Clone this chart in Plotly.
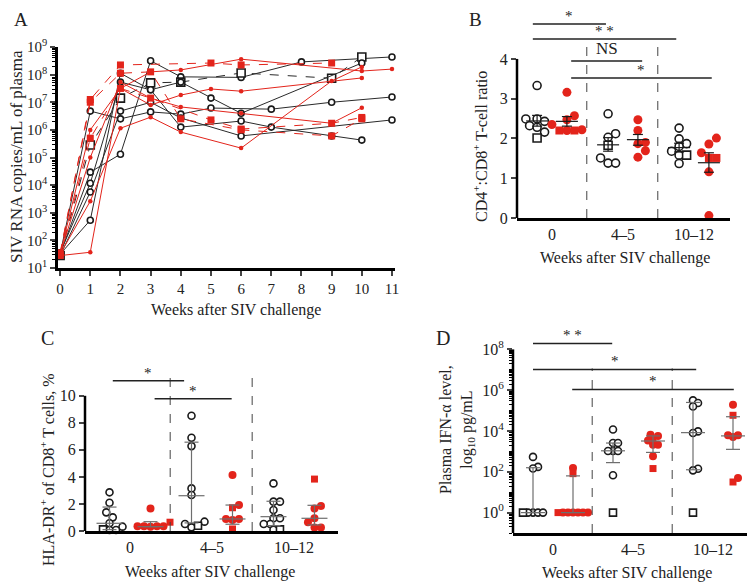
import numpy as np
import plotly.graph_objects as go

RED = "#e3241b"
INK = "#1a1a1a"
GREY = "#6e6e6e"
FONT = "Liberation Serif"
# the page body adds an 8px margin; the figure is sized so that it fills the window exactly
PAGE_W, PAGE_H, BODY = 755, 582, 8
W, H = PAGE_W - BODY, PAGE_H - BODY

# ---------------- Panel A: plasma SIV RNA, log10 copies/mL ----------------
A_weeks_black1 = [0, 1, 2, 3, 4, 6, 8, 11]
A_log_black1 = [1.5, 4.47, 5.12, 8.5, 7.92, 7.9, 8.46, 8.64]
A_weeks_black2 = [0, 1, 2, 3, 4, 6, 9, 10]          # square animal
A_log_black2 = [1.45, 5.45, 7.15, 7.7, 7.73, 8.06, 7.87, 8.64]
A_weeks_black3 = [0, 1, 2, 3, 4, 5, 7, 9, 11]
A_log_black3 = [1.5, 6.68, 6.4, 6.65, 6.57, 6.79, 6.75, 7.0, 7.19]
A_weeks_black4 = [0, 1, 2, 3, 4, 6, 7, 9, 10]
A_log_black4 = [1.55, 4.07, 7.73, 7.45, 6.1, 6.32, 6.1, 5.78, 5.63]
A_weeks_black5 = [0, 1, 2, 3, 4, 5, 6, 10]
A_log_black5 = [1.5, 2.73, 8.05, 7.45, 7.73, 7.15, 6.6, 8.42]
A_weeks_black6 = [0, 1, 2, 3, 4, 6, 11]
A_log_black6 = [1.45, 3.75, 6.68, 7.0, 6.43, 5.78, 6.36]
A_weeks_red1 = [0, 1, 2, 5, 6, 9]                   # square animal
A_log_red1 = [1.5, 7.1, 8.35, 8.42, 8.35, 8.42]
A_weeks_red2 = [0, 1, 2, 3, 4, 6, 10, 11]
A_log_red2 = [1.5, 6.0, 7.5, 8.1, 8.17, 8.56, 8.13, 8.2]
A_weeks_red3 = [0, 1, 2, 3, 5, 6, 9, 10]            # square animal
A_log_red3 = [1.45, 5.7, 7.5, 7.15, 6.36, 6.03, 6.24, 6.45]
A_weeks_red4 = [0, 1, 2, 3, 4, 6, 9, 10]
A_log_red4 = [1.5, 3.42, 6.06, 6.46, 5.92, 5.34, 7.77, 8.28]
A_weeks_red5 = [0, 1, 2, 3, 4, 5, 6, 10]
A_log_red5 = [1.45, 1.57, 7.5, 6.9, 7.26, 7.48, 7.4, 7.88]
A_weeks_red6 = [0, 1, 2, 3, 4, 6, 9, 10]
A_log_red6 = [1.5, 5.0, 7.73, 7.15, 6.83, 6.6, 6.24, 6.8]
A_weeks_red7 = [0, 1, 2, 3, 4, 6, 9, 10]            # square animal
A_log_red7 = [1.55, 7.0, 8.05, 8.1, 6.4, 6.0, 5.78, 6.4]
A_week_ticks = list(range(0, 12))
A_log_ticks = list(range(1, 10))

# ---------------- shared categories ----------------
categories = ["0", "4–5", "10–12"]

# ---------------- Panel B: CD4:CD8 ratio (mean ± SEM) ----------------
B_black_circles = [[3.33, 2.49, 2.49, 2.43, 2.32, 2.28, 2.16],
                   [2.62, 2.12, 2.03, 1.51, 1.38, 1.38],
                   [2.26, 1.99, 1.87, 1.80, 1.68, 1.58, 1.37]]
B_black_squares = [[2.01], [1.83], [1.58]]
B_red_circles = [[3.16, 2.57, 2.47, 2.35, 2.22, 2.20],
                 [2.47, 2.20, 1.90, 1.87, 1.69, 1.53],
                 [2.01, 1.86, 1.64, 1.16, 0.06]]
B_red_squares = [[2.20, 2.20], [], [1.51, 1.51]]
B_black_mean = [2.44, 1.84, 1.77]
B_black_sem_lo = [2.31, 1.68, 1.66]
B_black_sem_hi = [2.58, 2.02, 1.88]
B_red_mean = [2.43, 1.97, 1.39]
B_red_sem_lo = [2.31, 1.83, 1.15]
B_red_sem_hi = [2.55, 2.10, 1.64]

# ---------------- Panel C: HLA-DR+ of CD8+ T cells, % (median, IQR) ----------------
C_black_circles = [[2.86, 2.09, 1.38, 1.01, 0.57, 0.32, 0.07, 0.07],
                   [8.52, 6.90, 6.28, 3.15, 2.66, 0.69, 0.52, 0.27],
                   [3.52, 2.17, 2.17, 1.55, 0.94, 0.94, 0.52, 0.52, 0.10]]
C_black_squares = [[0.12], [0.39], [0.12]]
C_red_circles = [[1.67, 0.35, 0.35, 0.35, 0.32, 0.35],
                 [4.14, 1.92, 0.89, 0.89, 0.81],
                 [1.85, 1.67, 0.94, 0.64, 0.25, 0.25]]
C_red_squares = [[0.65], [1.72, 0.15], [3.84]]
C_black_median = [0.57, 2.61, 1.06]
C_black_q1 = [0.10, 0.60, 0.40]
C_black_q3 = [1.77, 6.57, 2.20]
C_red_median = [0.32, 0.89, 0.94]
C_red_q1 = [0.32, 0.50, 0.45]
C_red_q3 = [0.69, 1.92, 1.90]

# ---------------- Panel D: plasma IFN-alpha, log10 pg/mL (median, IQR) ----------------
D_black_circles = [[2.73, 2.24, 2.16, 0, 0, 0, 0],
                   [4.07, 3.41, 3.41, 3.02, 3.02, 3.02, 1.83],
                   [5.50, 5.37, 5.20, 3.98, 3.90, 2.15, 2.07]]
D_black_squares = [[0], [0], [0]]
D_red_circles = [[2.19, 0, 0, 0, 0, 0, 0],
                 [3.82, 3.76, 3.54, 3.33, 3.33, 2.76],
                 [5.29, 3.79, 3.79, 3.70, 1.70]]
D_red_squares = [[1.91, 0], [3.58, 2.16], [4.77, 1.50]]
D_black_median = [0.0, 3.03, 3.92]
D_black_q1 = [0.0, 2.45, 2.10]
D_black_q3 = [2.20, 3.41, 5.40]
D_red_median = [0.0, 3.51, 3.76]
D_red_q1 = [0.0, 2.95, 3.10]
D_red_q3 = [1.80, 3.76, 4.70]

# significance bars: (x from, x to, y level, label) in axis units (log10 for panel D)
B_sig = [(-0.27, 0.76, 4.88, "*"), (-0.27, 1.75, 4.50, "* *"),
         (0.27, 1.27, 3.95, "NS"), (0.27, 2.25, 3.52, "*")]
C_sig = [(-0.21, 0.66, 11.11, "*"), (0.30, 1.24, 9.78, "*")]
D_sig = [(-0.25, 0.74, 8.29, "* *"), (-0.25, 1.79, 7.02, "*"), (0.24, 2.26, 6.04, "*")]

# ============================================================================
fig = go.Figure()


def dom_x(l, r):
    return [max(0.0, (l - BODY) / W), min(1.0, (r - BODY) / W)]


def dom_y(b, t):
    return [max(0.0, 1 - (b - BODY) / H), min(1.0, 1 - (t - BODY) / H)]


# ---------------- Panel A ----------------
A_series = [
    (A_weeks_black1, A_log_black1, "black", False),
    (A_weeks_black2, A_log_black2, "black", True),
    (A_weeks_black3, A_log_black3, "black", False),
    (A_weeks_black4, A_log_black4, "black", False),
    (A_weeks_black5, A_log_black5, "black", False),
    (A_weeks_black6, A_log_black6, "black", False),
    (A_weeks_red1, A_log_red1, "red", True),
    (A_weeks_red2, A_log_red2, "red", False),
    (A_weeks_red3, A_log_red3, "red", True),
    (A_weeks_red4, A_log_red4, "red", False),
    (A_weeks_red5, A_log_red5, "red", False),
    (A_weeks_red6, A_log_red6, "red", False),
    (A_weeks_red7, A_log_red7, "red", True),
]
for wk, lg, grp, sq in A_series:
    yv = [10 ** v for v in lg]
    if grp == "black":
        line = dict(color="#2a2a2a", width=1, dash="dash" if sq else "solid")
        marker = dict(symbol="square" if sq else "circle", size=8 if sq else 6,
                      color="white", line=dict(color=INK, width=1.6))
    else:
        line = dict(color=RED, width=1, dash="dash" if sq else "solid")
        marker = dict(symbol="square" if sq else "circle", size=7 if sq else 4.5,
                      color=RED, line=dict(width=0))
    fig.add_trace(go.Scatter(x=wk, y=yv, mode="lines+markers", line=line, marker=marker,
                             xaxis="x", yaxis="y", showlegend=False, hoverinfo="skip",
                             cliponaxis=False))


# ---------------- dot panels ----------------
def swarm(vals, ypu, xpu, spacing):
    ypx = [v * ypu for v in vals]
    order = sorted(range(len(vals)), key=lambda i: (ypx[i], i))
    placed = []
    offs = [0.0] * len(vals)
    step = spacing / 2.0
    for i in order:
        k = 0
        found = None
        while found is None:
            cands = [0.0] if k == 0 else [k * step, -k * step]
            for c in cands:
                if all((c - px) ** 2 + (ypx[i] - py) ** 2 >= spacing ** 2 * 0.999 for px, py in placed):
                    found = c
                    break
            k += 1
        placed.append((found, ypx[i]))
        offs[i] = found / xpu
    return offs


PANELS = {
    "B": dict(xa="x2", ya="y2", px=(517, 730), py=(218, 10), xr=(-0.493, 2.507), yr=(0, 5.23),
              log=False, off=0.21, size=(8, 9), spacing=7.5, hw=11, cw=5, sumcolor=INK,
              circles=(B_black_circles, B_red_circles), squares=(B_black_squares, B_red_squares),
              center=(B_black_mean, B_red_mean), lo=(B_black_sem_lo, B_red_sem_lo),
              hi=(B_black_sem_hi, B_red_sem_hi), sig=B_sig, top=4, dash_top=4.37,
              yticks=[0, 1, 2, 3, 4]),
    "C": dict(xa="x3", ya="y3", px=(85, 338), py=(531, 362), xr=(-0.549, 2.537), yr=(0, 12.5),
              log=False, off=0.25, size=(7, 8), spacing=6.5, hw=13, cw=7, sumcolor=GREY,
              circles=(C_black_circles, C_red_circles), squares=(C_black_squares, C_red_squares),
              center=(C_black_median, C_red_median), lo=(C_black_q1, C_red_q1),
              hi=(C_black_q3, C_red_q3), sig=C_sig, top=10, dash_top=11.8,
              yticks=[0, 2, 4, 6, 8, 10]),
    "D": dict(xa="x4", ya="y4", px=(513, 755), py=(533, 329), xr=(-0.5, 2.525), yr=(-1, 9),
              log=True, off=0.25, size=(7, 8), spacing=5.0, hw=12, cw=7, sumcolor=GREY,
              circles=(D_black_circles, D_red_circles), squares=(D_black_squares, D_red_squares),
              center=(D_black_median, D_red_median), lo=(D_black_q1, D_red_q1),
              hi=(D_black_q3, D_red_q3), sig=D_sig, top=8, dash_top=7.07,
              yticks=[0, 2, 4, 6, 8]),
}

shapes = []
annotations = []

for name, P in PANELS.items():
    xpu = (P["px"][1] - P["px"][0]) / (P["xr"][1] - P["xr"][0])
    ypu = (P["py"][0] - P["py"][1]) / (P["yr"][1] - P["yr"][0])
    tr = (lambda v: 10 ** v) if P["log"] else (lambda v: v)
    for gi, sign in enumerate((-1, 1)):
        is_red = gi == 1
        # summary lines (center, error range)
        sx, sy = [], []
        for k in range(len(categories)):
            c = k + sign * P["off"]
            hw, cw = P["hw"] / xpu, P["cw"] / xpu
            m, lo, hi = P["center"][gi][k], P["lo"][gi][k], P["hi"][gi][k]
            sx += [c - hw, c + hw, None, c, c, None, c - cw, c + cw, None, c - cw, c + cw, None]
            sy += [tr(m), tr(m), None, tr(lo), tr(hi), None, tr(lo), tr(lo), None, tr(hi), tr(hi), None]
        # points
        cx, cy, qx, qy = [], [], [], []
        for k in range(len(categories)):
            c = k + sign * P["off"]
            circ = P["circles"][gi][k]
            sqs = P["squares"][gi][k]
            allv = list(circ) + list(sqs)
            offs = swarm(allv, ypu, xpu, P["spacing"])
            for j, v in enumerate(allv):
                if j < len(circ):
                    cx.append(c + offs[j]); cy.append(tr(v))
                else:
                    qx.append(c + offs[j]); qy.append(tr(v))
        if is_red:
            mk_c = dict(symbol="circle", size=P["size"][1], color=RED, line=dict(width=0))
            mk_s = dict(symbol="square", size=P["size"][1] - 1, color=RED, line=dict(width=0))
        else:
            mk_c = dict(symbol="circle", size=P["size"][0], color="white", line=dict(color=INK, width=1.6))
            mk_s = dict(symbol="square", size=P["size"][0], color="white", line=dict(color=INK, width=1.6))
        fig.add_trace(go.Scatter(x=cx, y=cy, mode="markers", marker=mk_c, xaxis=P["xa"], yaxis=P["ya"],
                                 showlegend=False, hoverinfo="skip", cliponaxis=False))
        fig.add_trace(go.Scatter(x=qx, y=qy, mode="markers", marker=mk_s, xaxis=P["xa"], yaxis=P["ya"],
                                 showlegend=False, hoverinfo="skip", cliponaxis=False))
        fig.add_trace(go.Scatter(x=sx, y=sy, mode="lines", line=dict(color=P["sumcolor"], width=1.2),
                                 xaxis=P["xa"], yaxis=P["ya"], showlegend=False, hoverinfo="skip"))
    # y axis line
    shapes.append(dict(type="line", xref=P["xa"] + " domain", yref=P["ya"], x0=0, x1=0,
                       y0=tr(P["yr"][0]), y1=tr(P["top"]), line=dict(color="black", width=2.5)))
    # dashed separators
    for xd in (0.49, 1.49):
        shapes.append(dict(type="line", xref=P["xa"], yref=P["ya"], x0=xd, x1=xd,
                           y0=tr(P["yr"][0]), y1=tr(P["dash_top"]),
                           line=dict(color="#444", width=1, dash="dash")))
    # significance bars
    for x0, x1, yl, lab in P["sig"]:
        shapes.append(dict(type="line", xref=P["xa"], yref=P["ya"], x0=x0, x1=x1, y0=tr(yl), y1=tr(yl),
                           line=dict(color="#222", width=1.5)))
        annotations.append(dict(xref=P["xa"], yref=P["ya"], x=(x0 + x1) / 2, y=yl, text=lab,
                                showarrow=False, yanchor="bottom", yshift=-2 if lab != "NS" else 1,
                                font=dict(family=FONT, size=15 if lab != "NS" else 17, color="#222")))

# ---------------- axes ----------------
common_tick = dict(family=FONT, size=16, color="#222")
layout_axes = {}
layout_axes["xaxis"] = dict(domain=dom_x(58, 395), range=[-0.07, 11.1], anchor="y",
                            tickvals=A_week_ticks, ticks="outside", ticklen=5, tickwidth=1.5,
                            showline=True, linewidth=2.5, linecolor="black", showgrid=False,
                            zeroline=False, automargin=False,
                            tickfont=dict(family=FONT, size=15, color="#222"))
A_minor = [k * 10 ** n for n in range(1, 9) for k in range(2, 10)]
layout_axes["yaxis"] = dict(domain=dom_y(268, 47), type="log", range=[1, 9], anchor="x",
                            tickvals=[10 ** n for n in A_log_ticks],
                            ticktext=["10<sup>%d</sup>" % n for n in A_log_ticks],
                            ticks="outside", ticklen=5, tickwidth=2,
                            minor=dict(tickvals=A_minor, ticks="outside", ticklen=3, tickwidth=1,
                                       tickcolor="black", showgrid=False),
                            showline=True, linewidth=2.5, linecolor="black", showgrid=False,
                            zeroline=False, automargin=False,
                            tickfont=dict(family=FONT, size=15, color="#222"))
for i, (name, P) in enumerate(PANELS.items()):
    n = i + 2
    layout_axes["xaxis%d" % n] = dict(domain=dom_x(*P["px"]), range=list(P["xr"]), anchor="y%d" % n,
                                      tickvals=[0, 1, 2], ticktext=categories, ticks="",
                                      showline=True, linewidth=2.5, linecolor="black",
                                      showgrid=False, zeroline=False, automargin=False,
                                      tickfont=dict(family=FONT, size=16, color="#222"))
    ya = dict(domain=dom_y(*P["py"]), range=list(P["yr"]), anchor="x%d" % n,
              ticks="outside", ticklen=5, tickwidth=1.5, showline=False, showgrid=False,
              zeroline=False, automargin=False, tickfont=common_tick)
    if P["log"]:
        ya.update(type="log", tickvals=[10 ** t for t in P["yticks"]],
                  ticktext=["10<sup>%d</sup>" % t for t in P["yticks"]],
                  minor=dict(tickvals=[k * 10 ** m for m in range(-1, 8) for k in range(2, 10)]
                             + [10 ** m for m in (-1, 1, 3, 5, 7)],
                             ticks="outside", ticklen=3, tickwidth=1, tickcolor="black", showgrid=False))
    else:
        ya.update(tickvals=P["yticks"])
    layout_axes["yaxis%d" % n] = ya


def ann(x, y, text, size, angle=0, xanchor="center", yanchor="middle", pad=1):
    annotations.append(dict(xref="paper", yref="paper", x=(x - BODY) / W, y=1 - (y - BODY) / H,
                            text=text, showarrow=False, textangle=angle, xanchor=xanchor,
                            yanchor=yanchor, borderpad=pad,
                            font=dict(family=FONT, size=size, color="#222")))


ann(21, 8, "A", 19, yanchor="top", pad=0)
ann(475, 8, "B", 19, yanchor="top", pad=0)
ann(47, 338, "C", 20)
ann(443, 338, "D", 20)
ann(16, 157, "SIV RNA copies/mL of plasma", 17, angle=-90)
ann(236, 310, "Weeks after SIV challenge", 16)
ann(480, 147, "CD4<sup>+</sup>:CD8<sup>+</sup> T-cell ratio", 16, angle=-90)
ann(625, 258, "Weeks after SIV challenge", 16)
ann(47, 470, "HLA-DR<sup>+</sup> of CD8<sup>+</sup> T cells, %", 16, angle=-90)
ann(210, 572, "Weeks after SIV challenge", 16)
ann(457, 430, "Plasma IFN-α level,<br>log<sub>10</sub> pg/mL", 16, angle=-90)
ann(627, 573, "Weeks after SIV challenge", 16)

fig.update_layout(width=W, height=H,
                  margin=dict(l=0, r=0, t=0, b=0, pad=0, autoexpand=False),
                  paper_bgcolor="white", plot_bgcolor="white",
                  font=dict(family=FONT, color="#222"),
                  shapes=shapes, annotations=annotations, **layout_axes)
fig.write_html("out.html")
